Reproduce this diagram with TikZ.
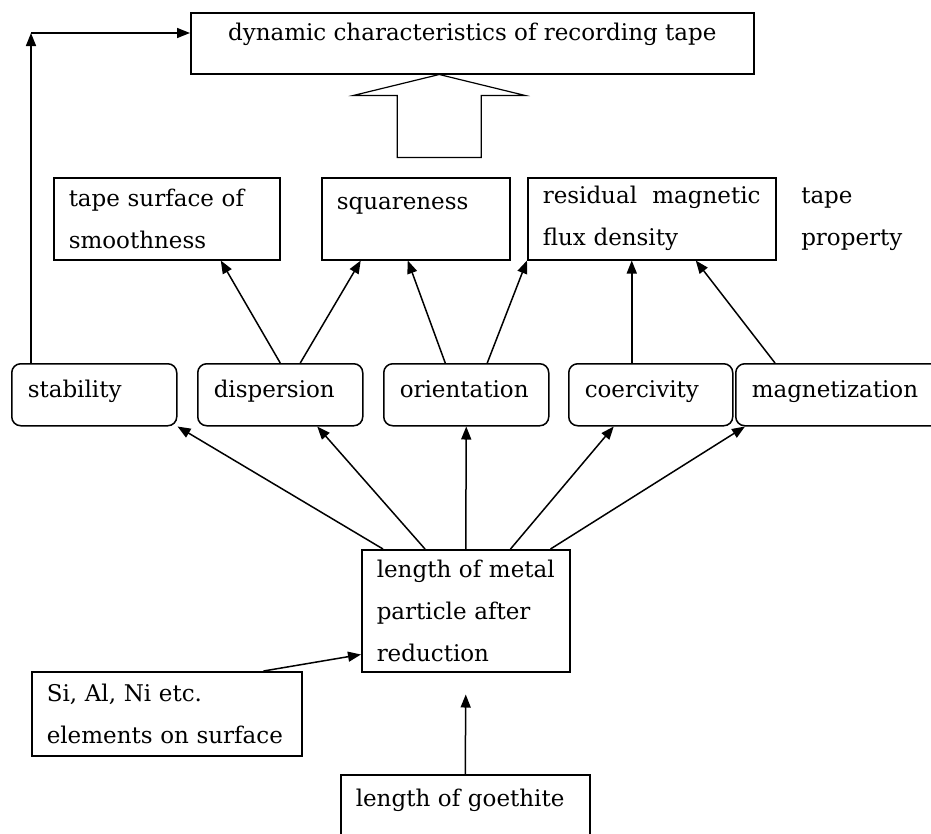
\documentclass[tikz,border=0pt]{standalone}
\usepackage{fontspec}
\setmainfont{DejaVu Serif}
\usetikzlibrary{positioning,arrows.meta}

\begin{document}
\begin{tikzpicture}[x=1pt, y=-1pt, line width=1.5pt, >={Triangle[length=13pt,width=10pt]},
  font=\fontsize{23}{42}\selectfont,
  prop/.style={rectangle, draw, anchor=north west, align=left, inner xsep=15pt, inner ysep=0pt},
  factor/.style={rectangle, draw, rounded corners=9pt, anchor=north west, align=left, inner xsep=16pt, inner ysep=0pt, text height=34pt, text depth=28pt}]
\path[use as bounding box] (0,0) rectangle (931,833);
\clip (0,0) rectangle (931,833);
\node (goal) [rectangle, draw, anchor=north west, inner sep=0pt, minimum width=563pt, text height=28pt, text depth=33pt] at (190,12) {dynamic characteristics of recording tape};
\node (smooth) [prop, text width=196pt, minimum height=82pt] at (53,177) {tape surface of\\smoothness};
\node (square) [prop, text width=158pt, text height=32pt, text depth=50pt] at (321,177) {squareness};
\node (resid) [prop, text width=218pt, minimum height=82pt] at (527,177) {residual~~magnetic\\flux density};
\node (tprop) [right=24pt of resid, inner sep=0pt, align=left] {tape\\property};
\node (stab) [factor, text width=133pt] at (11,363) {stability};
\node (disp) [factor, text width=133pt] at (197,363) {dispersion};
\node (orient) [factor, text width=133pt] at (383,363) {orientation};
\node (coer) [factor, text width=132pt] at (568,363) {coercivity};
\node (magn) [factor, text width=185pt] at (735,363) {magnetization};
\node (metal) [prop, text width=178pt, minimum height=122pt] at (361,549) {length~of~metal\\particle after\\reduction};
\node (elem) [prop, text width=240pt, minimum height=84pt] at (31,671) {Si, Al, Ni etc.\\elements on surface};
\node (goeth) [prop, text width=219pt, text height=32pt, text depth=60pt] at (340,774) {length of goethite};
\coordinate (gtip) at ([yshift=-22pt]metal.south);
\coordinate (turn) at (31,33);
\draw [line width=1.2pt] ([xshift=-33pt]goal.south) -- ++(86,21) -- ++(-44,0) -- ++(0,62) -- ++(-84,0) -- ++(0,-62) -- ++(-44,0) -- cycle;
\draw [->] ([xshift=20pt]stab.north west) -- (turn);
\draw [->] (turn) -- (turn -| goal.west);
\draw [->] (disp.north) -- ([xshift=54pt]smooth.south);
\draw [->] ([xshift=20pt]disp.north) -- ([xshift=-55pt]square.south);
\draw [->] ([xshift=-21pt]orient.north) -- ([xshift=-8pt]square.south);
\draw [->] ([xshift=21pt]orient.north) -- (resid.south west);
\draw [->] ([xshift=-19pt]coer.north) -- ([xshift=-20pt]resid.south);
\draw [->] ([xshift=40pt]magn.north west) -- ([xshift=44pt]resid.south);
\draw [->] ([xshift=22pt]metal.north west) -- (stab.south east);
\draw [->] ([xshift=64pt]metal.north west) -- ([xshift=37pt]disp.south);
\draw [->] (metal.north) -- (orient.south);
\draw [->] ([xshift=-60pt]metal.north east) -- ([xshift=-37pt]coer.south);
\draw [->] ([xshift=-20pt]metal.north east) -- ([xshift=10pt]magn.south west);
\draw [->] ([xshift=-39pt]elem.north east) -- ([yshift=18pt]metal.south west);
\draw [->] (goeth.north) -- (gtip);
\end{tikzpicture}
\end{document}
